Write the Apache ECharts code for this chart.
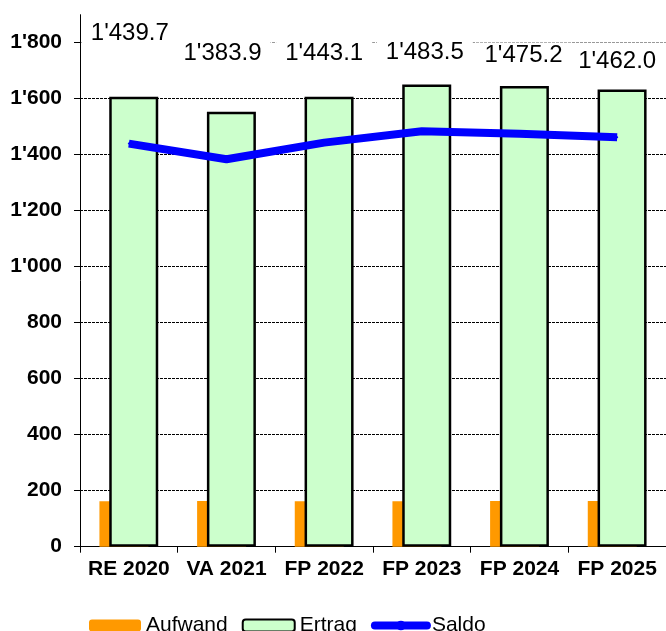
<!DOCTYPE html>
<html>
<head>
<meta charset="utf-8">
<script src="https://cdn.jsdelivr.net/npm/echarts@6/dist/echarts.min.js"></script>
<style>
  html, body { margin: 0; padding: 0; background: #fff; }
  #chart { width: 666px; height: 631px; }
</style>
</head>
<body>
<div id="chart"></div>
<script>
// Daten (Mio. CHF)
const categories = ["RE 2020", "VA 2021", "FP 2022", "FP 2023", "FP 2024", "FP 2025"];
const aufwand = [162, 163, 162, 162, 163, 163];
const ertrag = [1607, 1553, 1607, 1651, 1645, 1633];
const saldo = [1439.7, 1383.9, 1443.1, 1483.5, 1475.2, 1462.0];

// label placement (px offset from the point), like the hand-moved labels in the original
const labelOffsets = [[1, -110], [-4, -106], [0, -89], [3, -79], [4, -78], [0, -76]];

const FONT = "'Liberation Sans', Arial, sans-serif";

function swiss(v, dec) {
  let s = Number(v).toFixed(dec || 0);
  let parts = s.split(".");
  parts[0] = parts[0].replace(/\B(?=(\d{3})+(?!\d))/g, "'");
  return parts.join(".");
}

const chart = echarts.init(document.getElementById("chart"), null, { renderer: "canvas" });

chart.setOption({
  animation: false,
  backgroundColor: "#fff",
  textStyle: { fontFamily: FONT },
  grid: { left: 80, right: -3, top: 14.7, bottom: 84.3, containLabel: false },
  legend: {
    left: 84,
    top: 610,
    itemWidth: 52,
    itemHeight: 12,
    itemGap: 14,
    textStyle: { fontFamily: FONT, fontSize: 21, color: "#000" },
    data: [
      "Aufwand",
      "Ertrag",
      { name: "Saldo", lineStyle: { width: 8, cap: "round" } }
    ]
  },
  xAxis: {
    type: "category",
    data: categories,
    boundaryGap: true,
    axisLine: { lineStyle: { color: "#000", width: 1 } },
    axisTick: { show: true, length: 6, lineStyle: { color: "#000" } },
    axisLabel: {
      interval: 0,
      margin: 12,
      color: "#000",
      fontFamily: FONT,
      fontWeight: "bold",
      fontSize: 21
    }
  },
  yAxis: {
    type: "value",
    min: 0,
    max: 1900,
    interval: 200,
    axisLine: { show: true, lineStyle: { color: "#000", width: 1 } },
    axisTick: { show: true, length: 6, lineStyle: { color: "#000" } },
    axisLabel: {
      margin: 18,
      color: "#000",
      fontFamily: FONT,
      fontWeight: "bold",
      fontSize: 21,
      showMaxLabel: false,
      formatter: function (v) { return v > 1800 ? "" : swiss(v); }
    },
    splitLine: {
      show: true,
      lineStyle: {
        color: ["#000", "#000", "#000", "#000", "#000", "#000", "#000", "#000", "#000", "#999", "rgba(0,0,0,0)"],
        type: [3, 1],
        width: 1
      }
    }
  },
  series: [
    {
      name: "Aufwand",
      type: "bar",
      data: aufwand,
      barWidth: 49,
      barGap: "-80%",
      itemStyle: { color: "#FF9900" }
    },
    {
      name: "Ertrag",
      type: "bar",
      data: ertrag,
      barWidth: 49,
      itemStyle: { color: "#CCFFCC", borderColor: "#000", borderWidth: 2.5 }
    },
    {
      name: "Saldo",
      type: "line",
      data: saldo.map(function (v, i) {
        return {
          value: v,
          label: { offset: labelOffsets[i] }
        };
      }),
      symbol: "circle",
      symbolSize: 2,
      z: 5,
      lineStyle: { color: "#0000FF", width: 8 },
      itemStyle: { color: "#0000FF" },
      label: {
        show: true,
        position: "inside",
        color: "#000",
        fontFamily: FONT,
        fontSize: 24,
        backgroundColor: "#fff",
        padding: [1, 9, 1, 9],
        formatter: function (p) { return swiss(p.value, 1); }
      }
    }
  ]
});
</script>
</body>
</html>
